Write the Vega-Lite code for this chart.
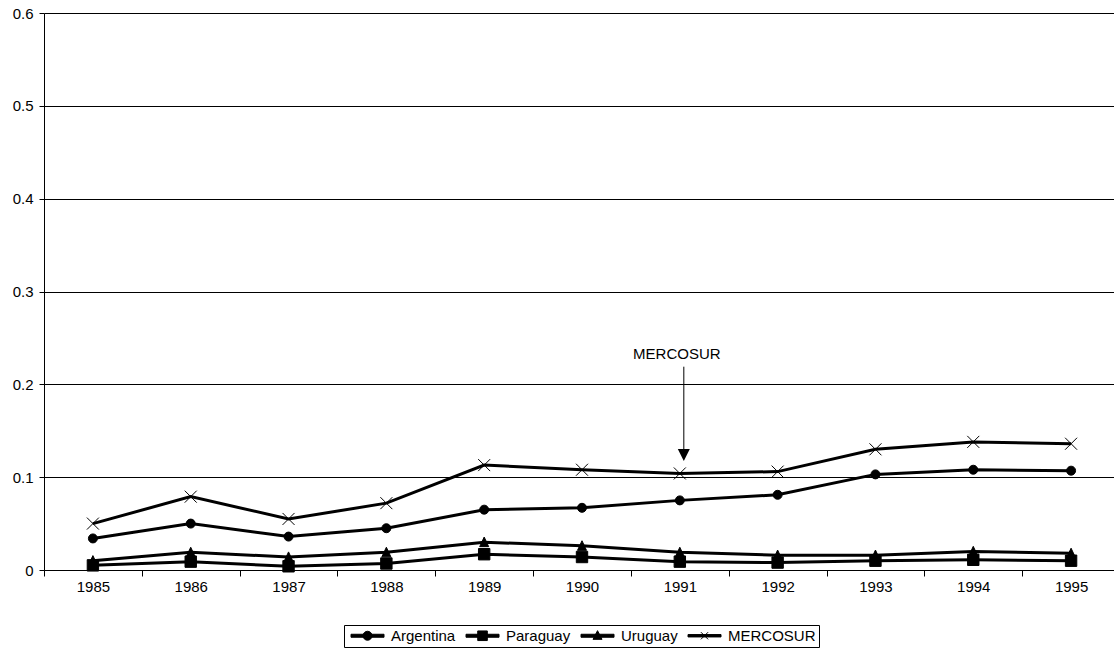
{
  "$schema": "https://vega.github.io/schema/vega-lite/v6.json",
  "width": 1070,
  "height": 557,
  "autosize": {"type": "none"},
  "padding": {"left": 44, "top": 13, "right": 0, "bottom": 86},
  "background": "white",
  "config": {
    "font": "Liberation Sans",
    "view": {"stroke": null},
    "axis": {
      "labelFont": "Liberation Sans",
      "labelFontSize": 15,
      "labelColor": "black",
      "domainColor": "black",
      "tickColor": "black",
      "title": null
    }
  },
  "datasets": {
    "series": [
      {"year": "1985", "series": "Argentina", "value": 0.034},
      {"year": "1986", "series": "Argentina", "value": 0.050},
      {"year": "1987", "series": "Argentina", "value": 0.036},
      {"year": "1988", "series": "Argentina", "value": 0.045},
      {"year": "1989", "series": "Argentina", "value": 0.065},
      {"year": "1990", "series": "Argentina", "value": 0.067},
      {"year": "1991", "series": "Argentina", "value": 0.075},
      {"year": "1992", "series": "Argentina", "value": 0.081},
      {"year": "1993", "series": "Argentina", "value": 0.103},
      {"year": "1994", "series": "Argentina", "value": 0.108},
      {"year": "1995", "series": "Argentina", "value": 0.107},
      {"year": "1985", "series": "Paraguay", "value": 0.005},
      {"year": "1986", "series": "Paraguay", "value": 0.009},
      {"year": "1987", "series": "Paraguay", "value": 0.004},
      {"year": "1988", "series": "Paraguay", "value": 0.007},
      {"year": "1989", "series": "Paraguay", "value": 0.017},
      {"year": "1990", "series": "Paraguay", "value": 0.014},
      {"year": "1991", "series": "Paraguay", "value": 0.009},
      {"year": "1992", "series": "Paraguay", "value": 0.008},
      {"year": "1993", "series": "Paraguay", "value": 0.010},
      {"year": "1994", "series": "Paraguay", "value": 0.011},
      {"year": "1995", "series": "Paraguay", "value": 0.010},
      {"year": "1985", "series": "Uruguay", "value": 0.010},
      {"year": "1986", "series": "Uruguay", "value": 0.019},
      {"year": "1987", "series": "Uruguay", "value": 0.014},
      {"year": "1988", "series": "Uruguay", "value": 0.019},
      {"year": "1989", "series": "Uruguay", "value": 0.030},
      {"year": "1990", "series": "Uruguay", "value": 0.026},
      {"year": "1991", "series": "Uruguay", "value": 0.019},
      {"year": "1992", "series": "Uruguay", "value": 0.016},
      {"year": "1993", "series": "Uruguay", "value": 0.016},
      {"year": "1994", "series": "Uruguay", "value": 0.020},
      {"year": "1995", "series": "Uruguay", "value": 0.018},
      {"year": "1985", "series": "MERCOSUR", "value": 0.050},
      {"year": "1986", "series": "MERCOSUR", "value": 0.079},
      {"year": "1987", "series": "MERCOSUR", "value": 0.055},
      {"year": "1988", "series": "MERCOSUR", "value": 0.072},
      {"year": "1989", "series": "MERCOSUR", "value": 0.113},
      {"year": "1990", "series": "MERCOSUR", "value": 0.108},
      {"year": "1991", "series": "MERCOSUR", "value": 0.104},
      {"year": "1992", "series": "MERCOSUR", "value": 0.106},
      {"year": "1993", "series": "MERCOSUR", "value": 0.130},
      {"year": "1994", "series": "MERCOSUR", "value": 0.138},
      {"year": "1995", "series": "MERCOSUR", "value": 0.136}
    ],
    "note": [
      {"year": "1991", "top": 0.219, "bottom": 0.13, "head": 0.124, "labelAt": 0.233, "label": "MERCOSUR"}
    ]
  },
  "resolve": {"scale": {"shape": "independent"}},
  "layer": [
    {
      "data": {"name": "series"},
      "mark": {"type": "line", "color": "black", "strokeWidth": 3},
      "encoding": {
        "x": {
          "field": "year",
          "type": "ordinal",
          "scale": {"range": [0, 1076], "paddingInner": 0, "paddingOuter": 0},
          "axis": {
            "tickBand": "extent",
            "tickSize": 6,
            "labelPadding": 3,
            "labelAngle": 0,
            "grid": false
          }
        },
        "y": {
          "field": "value",
          "type": "quantitative",
          "scale": {"domain": [0, 0.6], "nice": false, "zero": true},
          "axis": {
            "values": [0, 0.1, 0.2, 0.3, 0.4, 0.5, 0.6],
            "format": ".1~f",
            "grid": true,
            "gridColor": "black",
            "gridWidth": 1,
            "gridOpacity": 1,
            "tickSize": 5,
            "labelPadding": 6
          }
        },
        "detail": {"field": "series"}
      }
    },
    {
      "data": {"name": "series"},
      "mark": {"type": "point", "filled": true, "color": "black", "stroke": "black", "strokeWidth": 1, "opacity": 1, "size": 144},
      "encoding": {
        "x": {"field": "year", "type": "ordinal"},
        "y": {"field": "value", "type": "quantitative"},
        "shape": {
          "field": "series",
          "type": "nominal",
          "scale": {
            "domain": ["Argentina", "Paraguay", "Uruguay", "MERCOSUR"],
            "range": [
              "M-0.75,0A0.75,0.75 0 1 1 0.75,0A0.75,0.75 0 1 1 -0.75,0Z",
              "M-0.95,-0.95L0.95,-0.95L0.95,0.95L-0.95,0.95Z",
              "M0,-0.85L0.75,0.75L-0.75,0.75Z",
              "M-1,-1L1,1M-1,1L1,-1"
            ]
          },
          "legend": null
        }
      }
    },
    {
      "data": {"name": "series"},
      "mark": {"type": "point", "filled": true, "color": "black", "stroke": "black", "strokeWidth": 1, "opacity": 1, "size": 144, "clip": true, "yOffset": 3000},
      "encoding": {
        "x": {"field": "year", "type": "ordinal"},
        "y": {"field": "value", "type": "quantitative"},
        "shape": {
          "field": "series",
          "type": "nominal",
          "scale": {
            "domain": ["Argentina", "Paraguay", "Uruguay", "MERCOSUR"],
            "range": [
              "M-0.58,-0.25L4.92,-0.25L4.92,0.25L-0.58,0.25Z M1.42,0A0.75,0.75 0 1 1 2.92,0A0.75,0.75 0 1 1 1.42,0Z",
              "M-0.58,-0.25L4.92,-0.25L4.92,0.25L-0.58,0.25Z M1.37,-0.8L2.97,-0.8L2.97,0.8L1.37,0.8Z",
              "M-0.58,-0.25L4.92,-0.25L4.92,0.25L-0.58,0.25Z M2.17,-0.85L2.92,0.6L1.42,0.6Z",
              "M-0.58,-0.2L4.92,-0.2L4.92,0.2L-0.58,0.2Z M1.57,-0.6L2.77,0.6M1.57,0.6L2.77,-0.6"
            ]
          },
          "legend": {
            "title": null,
            "orient": "none",
            "legendX": 300,
            "legendY": 612,
            "direction": "horizontal",
            "columns": 4,
            "columnPadding": 6,
            "padding": 3,
            "strokeColor": "black",
            "fillColor": "white",
            "labelFont": "Liberation Sans",
            "labelFontSize": 15,
            "labelColor": "black",
            "labelOffset": 29,
            "symbolSize": 144,
            "symbolStrokeWidth": 1,
            "symbolOpacity": 1
          }
        }
      }
    },
    {
      "data": {"name": "note"},
      "mark": {"type": "rule", "color": "black", "strokeWidth": 1, "xOffset": 4},
      "encoding": {
        "x": {"field": "year", "type": "ordinal"},
        "y": {"field": "top", "type": "quantitative"},
        "y2": {"field": "bottom"}
      }
    },
    {
      "data": {"name": "note"},
      "mark": {"type": "point", "shape": "M-1,-1L1,-1L0,1Z", "size": 144, "filled": true, "color": "black", "opacity": 1, "xOffset": 4},
      "encoding": {
        "x": {"field": "year", "type": "ordinal"},
        "y": {"field": "head", "type": "quantitative"}
      }
    },
    {
      "data": {"name": "note"},
      "mark": {"type": "text", "fontSize": 15, "font": "Liberation Sans", "color": "black", "baseline": "middle", "align": "center", "xOffset": -3},
      "encoding": {
        "x": {"field": "year", "type": "ordinal"},
        "y": {"field": "labelAt", "type": "quantitative"},
        "text": {"field": "label"}
      }
    }
  ]
}
